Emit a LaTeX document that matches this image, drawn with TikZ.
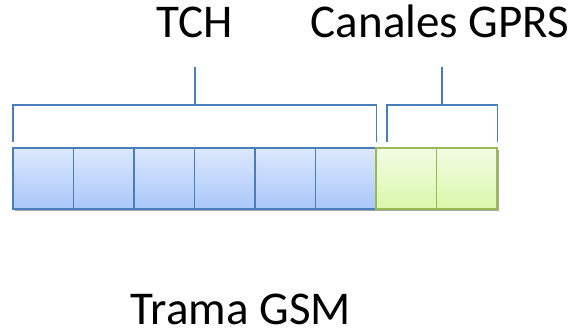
\documentclass[tikz,border=0pt]{standalone}
\usepackage{fontspec}
\setmainfont{Carlito}
\usetikzlibrary{shadows}
\definecolor{bluetop}{HTML}{DDE8FC}
\definecolor{bluebot}{HTML}{A9C7FA}
\definecolor{blueline}{HTML}{4A7EBB}
\definecolor{greentop}{HTML}{F3FCE4}
\definecolor{greenbot}{HTML}{D9F8A9}
\definecolor{greenline}{HTML}{98B954}
\tikzset{
  cell/.style={minimum width=60.5pt, minimum height=61pt, inner sep=0pt, line width=1.6pt,
    drop shadow={shadow xshift=2pt, shadow yshift=-2pt, opacity=0.35, fill=black}},
  tchcell/.style={cell, draw=blueline, top color=bluetop, bottom color=bluebot},
  gprscell/.style={cell, draw=greenline, top color=greentop, bottom color=greenbot},
  bracket/.style={draw=blueline, line width=1.5pt},
  lbl/.style={font=\fontsize{47}{52}\selectfont, inner sep=0pt, anchor=base}
}
\begin{document}
\begin{tikzpicture}[x=1pt,y=1pt]
\useasboundingbox (0,0) rectangle (573,330);
\foreach \i in {1,...,6} {
  \node[tchcell] (b\i) at ({13+60.5*(\i-0.5)},151.5) {};
}
\foreach \i/\j in {7/1,8/2} {
  \node[gprscell] (b\i) at ({376+60.5*(\j-0.5)},151.5) {};
}
% TCH bracket
\coordinate (tl) at (13,188);
\coordinate (tlu) at (13,225);
\coordinate (tr) at (376.5,188);
\coordinate (tru) at (376.5,225);
\coordinate (tmid) at (195,225);
\coordinate (ttop) at (195,263);
\draw[bracket] (tl) -- (tlu) -- (tru) -- (tr);
\draw[bracket] (tmid) -- (ttop);
% GPRS bracket
\coordinate (gl) at (387,188);
\coordinate (glu) at (387,225);
\coordinate (gr) at (497.5,188);
\coordinate (gru) at (497.5,225);
\coordinate (gmid) at (442,225);
\coordinate (gtop) at (442,263);
\draw[bracket] (gl) -- (glu) -- (gru) -- (gr);
\draw[bracket] (gmid) -- (gtop);
% labels
\node[lbl] (tch) at (195,292) {TCH};
\node[lbl] (gprs) at (440,292) {Canales GPRS};
\node[lbl] (trama) at (241,6) {Trama GSM};
\end{tikzpicture}
\end{document}
